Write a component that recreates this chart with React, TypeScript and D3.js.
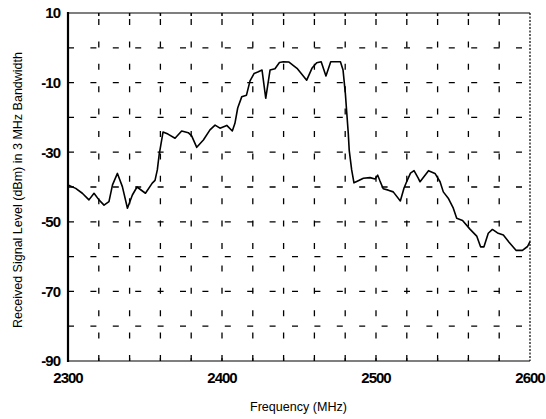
import React from "react";
import * as d3 from "d3";

// spectrum: frequency (MHz) and received level (dBm)
const freqs = [
  2300, 2305, 2309.3, 2313.6, 2316.9, 2320.1, 2323.4, 2326.6, 2328.9, 2332.1,
  2335.3, 2338.6, 2341.8, 2344.8, 2350.3, 2354.7, 2356.5, 2358, 2359.3, 2359.7,
  2361.7, 2364.9, 2369.5, 2373.8, 2378.1, 2380.3, 2383.6, 2387.9, 2392.2, 2395.5,
  2398.7, 2403.1, 2406.7, 2408.4, 2410.2, 2412.8, 2415.9, 2418.2, 2420.8, 2423.6,
  2426, 2428.4, 2430.2, 2431.2, 2434.4, 2437.3, 2439.8, 2443.5, 2448.7, 2455,
  2458.4, 2461.5, 2464.4, 2467.5, 2470.6, 2476.9, 2478.6, 2480.1, 2481, 2482,
  2482.6, 2484.2, 2485.7, 2488.5, 2491.8, 2496.1, 2499.4, 2501.1, 2502.6, 2504.7,
  2508, 2511.2, 2515.8, 2518.2, 2519.9, 2522.4, 2524.7, 2527.5, 2528.6, 2534.1,
  2538.3, 2541.6, 2543.7, 2546.9, 2550.2, 2552.4, 2556.2, 2561, 2565.4, 2567.9,
  2570.1, 2572.9, 2575.6, 2578.9, 2582.7, 2586.4, 2590.9, 2595.1, 2598.4, 2600,
];
const levels = [
  -39.4, -40.4, -41.8, -43.7, -41.8, -43.7, -45.2, -44.2, -39.4, -36.1,
  -39.9, -46.1, -42.3, -40.0, -41.8, -38.9, -38.1, -35.1, -30.3, -29.4,
  -24.2, -24.8, -26, -23.9, -24.4, -25.3, -28.6, -26.5, -23.6, -22.2,
  -23.1, -22.3, -23.9, -21.7, -17.3, -14.1, -13.6, -9.5, -7.4, -6.9,
  -6.4, -14.5, -9.3, -6.4, -6, -4.2, -4, -4.1, -5.9, -9.3,
  -5.9, -4.3, -4, -8.1, -4, -4, -6.4, -13.1, -18.6, -24.6,
  -29.4, -35.1, -38.8, -38.2, -37.5, -37.3, -37.7, -36.6, -38.3, -40.5,
  -40.9, -41.4, -44, -40.3, -38.5, -36, -35.3, -37.5, -38.5, -35.3,
  -36.1, -38.5, -41.4, -43.2, -46.1, -49, -49.6, -52.1, -54.1, -57.2,
  -57.2, -53.3, -52.2, -53.2, -53.8, -55.9, -58.2, -58.2, -57.1, -55.7,
];

const xTicks = [2300, 2400, 2500, 2600];
const yTicks = [10, -10, -30, -50, -70, -90];
const xGrid = d3.range(2320, 2600, 20);
const yGrid = d3.range(0, -90, -10);

const W = 546;
const H = 419;
const left = 68, right = 530, top = 13, bottom = 361;
const font = "'Liberation Sans', Arial, sans-serif";

export default function App() {
  const x = d3.scaleLinear().domain([2300, 2600]).range([left, right]);
  const y = d3.scaleLinear().domain([-90, 10]).range([bottom, top]);

  const pts: [number, number][] = freqs.map((f, i) => [f, levels[i]]);
  const line = d3.line<[number, number]>()
    .x(d => x(d[0]))
    .y(d => y(d[1]));

  return (
    <svg width={W} height={H} style={{ position: "absolute", left: 0, top: 0, background: "#fff" }}>
      {/* grid */}
      {yGrid.map(v => (
        <line key={"h" + v} x1={left} x2={right} y1={y(v)} y2={y(v)}
          stroke="#000" strokeWidth={1.3} strokeDasharray="6,16.4" />
      ))}
      {xGrid.map(v => (
        <line key={"v" + v} x1={x(v)} x2={x(v)} y1={bottom} y2={top}
          stroke="#000" strokeWidth={1.3} strokeDasharray="6,16.4" />
      ))}
      {xGrid.map(v => (
        <line key={"t" + v} x1={x(v)} x2={x(v)} y1={top} y2={top + 3} stroke="#000" strokeWidth={1.5} />
      ))}
      {xGrid.map(v => (
        <line key={"b" + v} x1={x(v)} x2={x(v)} y1={bottom} y2={bottom - 3} stroke="#000" strokeWidth={1.2} />
      ))}

      {/* frame */}
      <line x1={left} x2={right} y1={top} y2={top} stroke="#000" strokeWidth={1.2} />
      <line x1={left} x2={right} y1={bottom} y2={bottom} stroke="#000" strokeWidth={1.2} />
      <line x1={right} x2={right} y1={top} y2={bottom} stroke="#000" strokeWidth={1.2} strokeDasharray="2,1.5" />
      <line x1={left} x2={left} y1={top - 1} y2={bottom + 1} stroke="#000" strokeWidth={2.2} />

      {/* data */}
      <path d={line(pts) || ""} fill="none" stroke="#000" strokeWidth={1.6} strokeLinejoin="round" />

      {/* tick labels */}
      {yTicks.map(v => (
        <text key={"yl" + v} x={60} y={y(v)} dy="0.36em" textAnchor="end"
          fontFamily={font} fontSize={15} letterSpacing={-1} fontWeight="bold">{v}</text>
      ))}
      {xTicks.map(v => (
        <text key={"xl" + v} x={x(v)} y={382.5} textAnchor="middle"
          fontFamily={font} fontSize={15} letterSpacing={-1} fontWeight="bold">{v}</text>
      ))}

      {/* axis titles */}
      <text x={298.5} y={411} textAnchor="middle" fontFamily={font} fontSize={13}
        textLength={97} lengthAdjust="spacingAndGlyphs">Frequency (MHz)</text>
      <text transform="translate(22,190) rotate(-90)" textAnchor="middle" fontFamily={font} fontSize={12.5}
        textLength={276} lengthAdjust="spacingAndGlyphs">Received Signal Level (dBm) in 3 MHz Bandwidth</text>
    </svg>
  );
}
